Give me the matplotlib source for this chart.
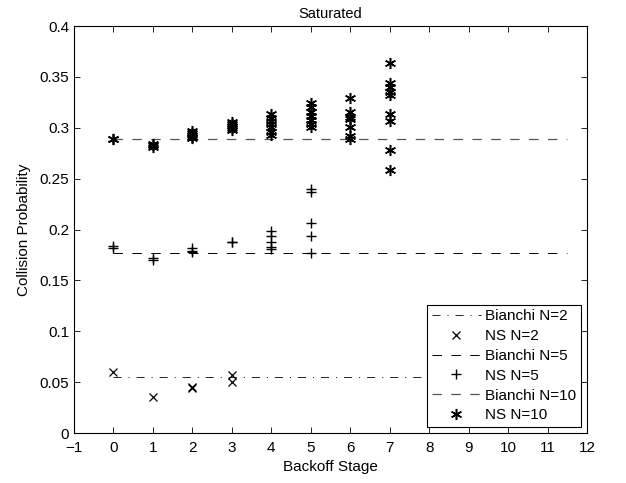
import matplotlib
matplotlib.use("Agg")
import matplotlib.pyplot as plt
from matplotlib.ticker import FixedLocator, FixedFormatter

plt.rcParams['font.family'] = ['Liberation Sans', 'DejaVu Sans']
plt.rcParams['lines.scale_dashes'] = False

title = "Saturated"
xlabel = "Backoff Stage"
ylabel = "Collision Probability"

bianchi_x = [0, 11.5]
bianchi_n2 = 0.055
bianchi_n5 = 0.177
bianchi_n10 = 0.289

ns2_stage = [0, 1, 2, 2, 3, 3]
ns2_val = [0.0603, 0.035, 0.0455, 0.0440, 0.057, 0.050]

ns5_stage = [0, 0, 1, 1, 2, 2, 2, 3, 3, 4, 4, 4, 4, 4, 5, 5, 5, 5, 5]
ns5_val = [0.182, 0.1835, 0.1705, 0.172, 0.1815, 0.1776, 0.179, 0.1874, 0.188,
           0.1989, 0.1936, 0.188, 0.1825, 0.181,
           0.2398, 0.2365, 0.2061, 0.1936, 0.1772]

ns10_stage = [0, 0, 1, 1, 1,
              2, 2, 2, 2, 2,
              3, 3, 3, 3, 3,
              4, 4, 4, 4, 4, 4, 4,
              5, 5, 5, 5, 5, 5, 5,
              6, 6, 6, 6, 6, 6, 6,
              7, 7, 7, 7, 7, 7, 7, 7, 7]
ns10_val = [0.2886, 0.2890, 0.2840, 0.2827, 0.2815,
            0.2970, 0.2950, 0.2930, 0.2910, 0.2896,
            0.3060, 0.3040, 0.3020, 0.3000, 0.2975,
            0.3140, 0.3100, 0.3070, 0.3040, 0.3010, 0.2960, 0.2930,
            0.3246, 0.3200, 0.3160, 0.3120, 0.3080, 0.3040, 0.3010,
            0.3290, 0.3160, 0.3110, 0.3090, 0.3010, 0.2920, 0.2890,
            0.3633, 0.3437, 0.3400, 0.3350, 0.3320, 0.3140, 0.3066, 0.2780, 0.2590]

xticks = [-1, 0, 1, 2, 3, 4, 5, 6, 7, 8, 9, 10, 11, 12]
xtick_labels = ["\u22121", "0", "1", "2", "3", "4", "5", "6", "7", "8", "9", "10", "11", "12"]
yticks = [0, 0.05, 0.1, 0.15, 0.2, 0.25, 0.3, 0.35, 0.4]
ytick_labels = ["0", "0.05", "0.1", "0.15", "0.2", "0.25", "0.3", "0.35", "0.4"]

fig = plt.figure(figsize=(6.26, 4.83), dpi=100)
ax = fig.add_axes([0.118, 0.1035, 0.820, 0.8425])

dashdot = (0, (5.8, 5.0, 0.8, 5.0))
dashed = (0, (6.8, 6.8))

ax.plot(bianchi_x, [bianchi_n2] * 2, color='black', lw=0.6, linestyle=dashdot,
        label='Bianchi N=2')
ax.plot(ns2_stage, ns2_val, linestyle='none', marker='x', color='black', ms=5.5, mew=0.9,
        label='NS N=2')
ax.plot(bianchi_x, [bianchi_n5] * 2, color='black', lw=0.7, linestyle=dashed,
        label='Bianchi N=5')
ax.plot(ns5_stage, ns5_val, linestyle='none', marker='+', color='black', ms=7.5, mew=1.0,
        label='NS N=5')
ax.plot(bianchi_x, [bianchi_n10] * 2, color='#555555', lw=0.9, linestyle=dashed,
        label='Bianchi N=10')
ax.plot(ns10_stage, ns10_val, linestyle='none', marker=(6, 2, 0), color='black', ms=8, mew=1.1,
        label='NS N=10')

ax.set_xlim(-1, 12)
ax.set_ylim(0, 0.4)
ax.xaxis.set_major_locator(FixedLocator(xticks))
ax.xaxis.set_major_formatter(FixedFormatter(xtick_labels))
ax.yaxis.set_major_locator(FixedLocator(yticks))
ax.yaxis.set_major_formatter(FixedFormatter(ytick_labels))
ax.tick_params(direction='in', top=True, right=True, length=4, width=0.6, labelsize=11)
ax.tick_params(axis='x', pad=6)
for s in ax.spines.values():
    s.set_linewidth(0.8)

ax.set_title(title, fontsize=10.5, pad=6)
ax.set_xlabel(xlabel, fontsize=11, labelpad=3)
ax.set_ylabel(ylabel, fontsize=11, labelpad=6)

leg = ax.legend(loc='lower right', fontsize=11, frameon=True, fancybox=False,
                edgecolor='black', framealpha=1, borderaxespad=0.4,
                handlelength=3.2, handletextpad=0.3, labelspacing=0.38, borderpad=0.3)
leg.get_frame().set_linewidth(0.8)

fig.savefig("out.png", dpi=100)
